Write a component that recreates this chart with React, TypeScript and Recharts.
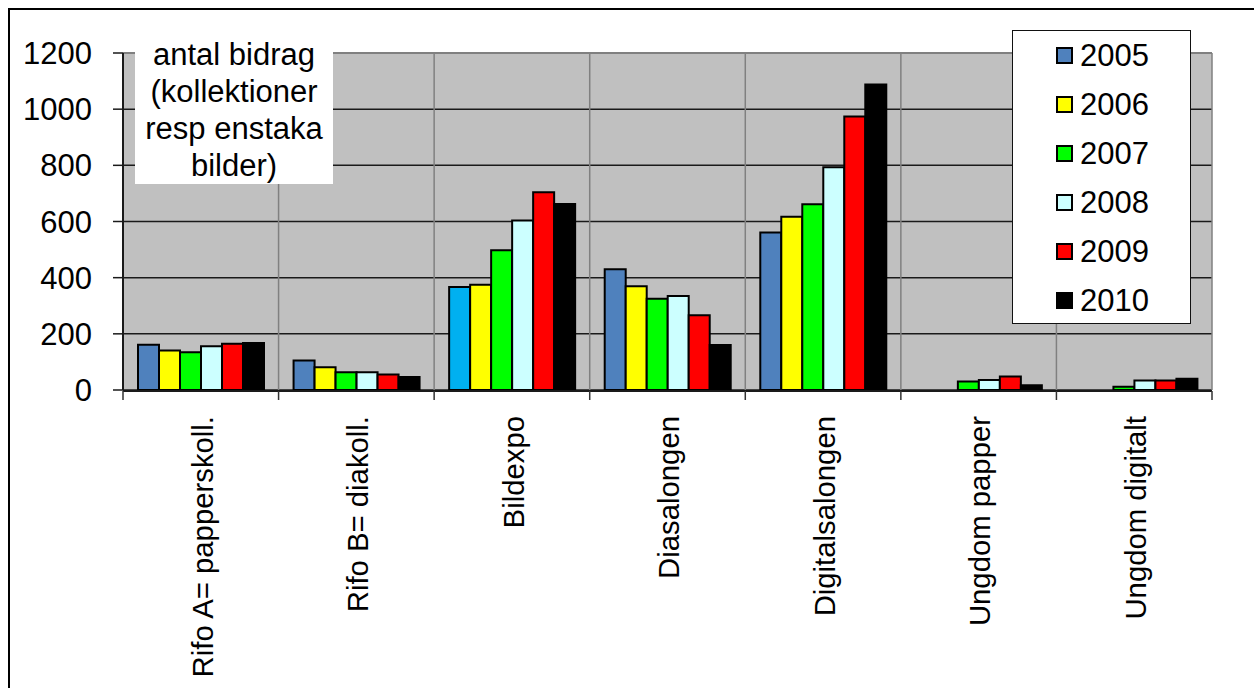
import React from "react";
import {
  BarChart,
  Bar,
  XAxis,
  YAxis,
  CartesianGrid,
  Legend,
  ReferenceLine,
  Cell,
} from "recharts";

const categories = [
  "Rifo A= papperskoll.",
  "Rifo B= diakoll.",
  "Bildexpo",
  "Diasalongen",
  "Digitalsalongen",
  "Ungdom papper",
  "Ungdom digitalt",
];
const v2005 = [161, 105, 367, 430, 561, null, null];
const v2006 = [141, 81, 375, 369, 617, null, null];
const v2007 = [134, 63, 498, 325, 661, 30, 12];
const v2008 = [156, 63, 604, 335, 793, 36, 34];
const v2009 = [165, 55, 704, 266, 974, 48, 34];
const v2010 = [167, 46, 662, 160, 1088, 17, 40];
const years = ["2005", "2006", "2007", "2008", "2009", "2010"];
const yTicks = [0, 200, 400, 600, 800, 1000, 1200];
const boundaryTicks = [0, 1, 2, 3, 4, 5, 6, 7];
const annotationLines = ["antal bidrag", "(kollektioner", "resp enstaka", "bilder)"];

const seriesValues = [v2005, v2006, v2007, v2008, v2009, v2010];
const seriesColors = ["#4F81BD", "#FFFF00", "#00FF00", "#CCFFFF", "#FF0000", "#000000"];
const highlight2005 = "#00B0F0";

const data = categories.map((c, i) => {
  const row: any = { name: c, pos: i + 0.5 };
  years.forEach((y, k) => {
    row[y] = seriesValues[k][i];
  });
  return row;
});

const FONT = "'Liberation Sans', Arial, sans-serif";
const FS = 31;

const CategoryTick = (props: any) => {
  const { x, y, payload } = props;
  const ty = y + 18;
  const tx = x + 1.5;
  return (
    <text
      x={tx}
      y={ty}
      transform={`rotate(-90, ${tx}, ${ty})`}
      textAnchor="end"
      dy="0.35em"
      fontSize={29.3}
      fontFamily={FONT}
      fill="#000"
    >
      {payload.value}
    </text>
  );
};

const LegendContent = (props: any) => {
  const { payload } = props;
  return (
    <div
      style={{
        width: 179,
        height: 294,
        boxSizing: "border-box",
        background: "#fff",
        border: "1.5px solid #111",
        fontFamily: FONT,
      }}
    >
      {(payload || []).map((entry: any) => (
        <div
          key={entry.value}
          style={{
            height: 49,
            display: "flex",
            alignItems: "center",
            paddingLeft: 43,
          }}
        >
          <div
            style={{
              width: 17,
              height: 17,
              boxSizing: "border-box",
              border: "2px solid #000",
              background: entry.color,
              marginRight: 7,
            }}
          />
          <span style={{ fontSize: FS, color: "#000", lineHeight: "31px" }}>{entry.value}</span>
        </div>
      ))}
    </div>
  );
};

export default function App() {
  return (
    <div
      style={{
        position: "absolute",
        left: 0,
        top: 0,
        width: 1254,
        height: 688,
        overflow: "hidden",
        background: "#fff",
      }}
    >
      <div
        style={{
          position: "absolute",
          left: 8,
          top: 8,
          width: 1400,
          height: 800,
          borderTop: "2px solid #000",
          borderLeft: "2px solid #000",
        }}
      />
      <BarChart
        width={1254}
        height={688}
        data={data}
        margin={{ top: 53, right: 42, left: 0, bottom: 296 }}
        barCategoryGap={15}
        barGap={0}
        style={{ position: "absolute", left: 0, top: 0 }}
      >
        <CartesianGrid
          horizontal={true}
          vertical={false}
          fill="#C0C0C0"
          stroke="#1a1a1a"
          strokeWidth={1.5}
        />
        <CartesianGrid
          horizontal={false}
          vertical={true}
          stroke="#808080"
          strokeWidth={1.5}
          xAxisId="grid"
        />
        <XAxis
          xAxisId="grid"
          dataKey="pos"
          type="number"
          domain={[0, 7]}
          ticks={boundaryTicks}
          height={1}
          interval={0}
          tickFormatter={() => ""}
          tickSize={9}
          axisLine={{ stroke: "#1a1a1a", strokeWidth: 2 }}
          tickLine={{ stroke: "#333", strokeWidth: 1.5 }}
          allowDataOverflow
        />
        <XAxis
          dataKey="name"
          type="category"
          height={1}
          axisLine={false}
          tickLine={false}
          tick={<CategoryTick />}
          interval={0}
        />
        <YAxis
          width={123}
          domain={[0, 1200]}
          ticks={yTicks}
          interval={0}
          tickSize={10}
          tickMargin={21}
          axisLine={{ stroke: "#1a1a1a", strokeWidth: 2 }}
          tickLine={{ stroke: "#1a1a1a", strokeWidth: 1.5 }}
          tick={{ fontSize: FS, fontFamily: FONT, fill: "#000" }}
        />
        <ReferenceLine y={1200} stroke="#808080" strokeWidth={2} />
        <Legend
          layout="vertical"
          align="center"
          verticalAlign="middle"
          content={<LegendContent />}
          wrapperStyle={{ position: "absolute", left: 1012, top: 30, width: 179, height: 294 }}
        />
        {years.map((y, k) => (
          <Bar
            key={y}
            dataKey={y}
            name={y}
            fill={seriesColors[k]}
            stroke="#000"
            strokeWidth={2}
            isAnimationActive={false}
          >
            {k === 0
              ? data.map((d: any) => (
                  <Cell
                    key={d.name}
                    fill={d.name === "Bildexpo" ? highlight2005 : seriesColors[0]}
                  />
                ))
              : null}
          </Bar>
        ))}
      </BarChart>
      <div
        style={{
          position: "absolute",
          left: 135,
          top: 36,
          width: 198,
          height: 148,
          background: "#fff",
          fontFamily: FONT,
          fontSize: FS,
          lineHeight: "37px",
          textAlign: "center",
          color: "#000",
        }}
      >
        {annotationLines.map((l) => (
          <div key={l}>{l}</div>
        ))}
      </div>
    </div>
  );
}
